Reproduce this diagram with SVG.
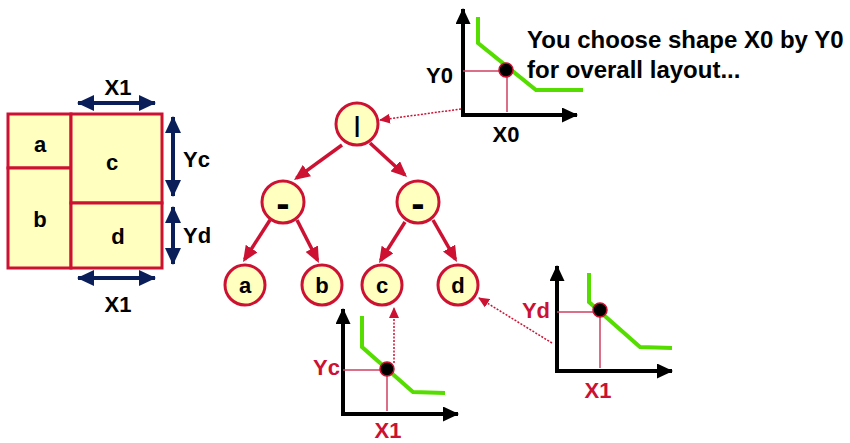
<svg xmlns="http://www.w3.org/2000/svg" width="850" height="443" viewBox="0 0 850 443">
<style>
text{font-family:"Liberation Sans",Arial,sans-serif;font-weight:bold;fill:#000}
.lbl{font-size:22px}
.red{fill:#cc1133}
.mid{text-anchor:middle}
.end{text-anchor:end}
.box{fill:#ffffbf;stroke:#cc1133;stroke-width:3}
.node{fill:#ffffbf;stroke:#cc1133;stroke-width:3}
.tree{stroke:#cc1133;stroke-width:3.5;fill:none;marker-end:url(#redArrow)}
.nav{stroke:#0a1e5a;stroke-width:4;fill:none;marker-start:url(#navArrow);marker-end:url(#navArrow)}
.axis{stroke:#000;stroke-width:4;fill:none;stroke-linejoin:miter;marker-start:url(#blkArrow);marker-end:url(#blkArrow)}
.green{stroke:#55dd00;stroke-width:4;fill:none}
.cross{stroke:#d04060;stroke-width:1.5;fill:none}
.dot{fill:#000;stroke:#cc1133;stroke-width:1.5}
.dotted{stroke:#cc1133;stroke-width:1.5;stroke-dasharray:2 1.5;fill:none;marker-end:url(#smallArrow)}
</style>
<defs>
<marker id="redArrow" markerUnits="userSpaceOnUse" markerWidth="16" markerHeight="14" refX="13" refY="7" orient="auto"><path d="M0,0 L16,7 L0,14 z" fill="#cc1133"/></marker>
<marker id="navArrow" markerUnits="userSpaceOnUse" markerWidth="17" markerHeight="16" refX="16" refY="8" orient="auto-start-reverse"><path d="M0,0 L17,8 L0,16 z" fill="#0a1e5a"/></marker>
<marker id="blkArrow" markerUnits="userSpaceOnUse" markerWidth="16" markerHeight="15" refX="15" refY="7.5" orient="auto-start-reverse"><path d="M0,0 L16,7.5 L0,15 z" fill="#000"/></marker>
<marker id="smallArrow" markerUnits="userSpaceOnUse" markerWidth="11" markerHeight="10" refX="10" refY="5" orient="auto"><path d="M0,0 L11,5 L0,10 z" fill="#cc1133"/></marker>
</defs>

<!-- layout drawing -->
<g id="layout">
<g id="rect-a"><rect class="box" x="8" y="114" width="63" height="54"/><text class="lbl mid" x="40" y="152">a</text></g>
<g id="rect-b"><rect class="box" x="8" y="168" width="63" height="100"/><text class="lbl mid" x="40" y="227">b</text></g>
<g id="rect-c"><rect class="box" x="71" y="114" width="91" height="89"/><text class="lbl mid" x="112" y="170">c</text></g>
<g id="rect-d"><rect class="box" x="71" y="203" width="91" height="65"/><text class="lbl mid" x="118" y="244">d</text></g>
<g id="dims">
<line class="nav" x1="78" y1="103" x2="155" y2="103"/>
<text class="lbl mid" x="118" y="95">X1</text>
<line class="nav" x1="173" y1="117" x2="173" y2="196"/>
<text class="lbl" x="183" y="167">Yc</text>
<line class="nav" x1="173" y1="207" x2="173" y2="264"/>
<text class="lbl" x="183" y="243">Yd</text>
<line class="nav" x1="78" y1="278" x2="155" y2="278"/>
<text class="lbl mid" x="118" y="312">X1</text>
</g>
</g>

<!-- tree connectors -->
<g id="connectors">
<line class="tree" x1="342" y1="145" x2="296.4" y2="178.2"/>
<line class="tree" x1="370" y1="143" x2="404.8" y2="175"/>
<line class="tree" x1="270" y1="220" x2="244.6" y2="259.5"/>
<line class="tree" x1="297" y1="220" x2="317.6" y2="260.3"/>
<line class="tree" x1="405" y1="222" x2="380.6" y2="260.5"/>
<line class="tree" x1="433" y1="220" x2="455.5" y2="259.4"/>
<line class="dotted" x1="461" y1="109" x2="380" y2="120"/>
<line class="dotted" x1="394" y1="363" x2="394" y2="308"/>
<line class="dotted" x1="552" y1="343" x2="479" y2="298"/>
</g>

<!-- tree nodes -->
<g id="node-root"><circle class="node" cx="357" cy="124" r="21"/><text class="lbl mid" x="357" y="132">|</text></g>
<g id="node-minus-left"><circle class="node" cx="283" cy="202" r="21"/><text class="mid" style="font-size:40px" x="283" y="217">-</text></g>
<g id="node-minus-right"><circle class="node" cx="418" cy="202" r="21"/><text class="mid" style="font-size:40px" x="418" y="217">-</text></g>
<g id="node-a"><circle class="node" cx="245" cy="285" r="20"/><text class="lbl mid" x="245" y="293">a</text></g>
<g id="node-b"><circle class="node" cx="322" cy="285" r="20"/><text class="lbl mid" x="322" y="293">b</text></g>
<g id="node-c"><circle class="node" cx="382" cy="285" r="20"/><text class="lbl mid" x="382" y="293">c</text></g>
<g id="node-d"><circle class="node" cx="458" cy="285" r="20"/><text class="lbl mid" x="458" y="293">d</text></g>

<!-- top graph -->
<g id="graph-root">
<path class="axis" d="M463,9 L463,115 L577,115"/>
<polyline class="green" points="478,17 478,43 536,90 583,90"/>
<path class="cross" d="M463,71 L506,71 M507,70 L507,112"/>
<circle class="dot" cx="506" cy="70" r="7"/>
<text class="lbl end" x="453" y="83">Y0</text>
<text class="lbl mid" x="506" y="142">X0</text>
</g>
<g id="note">
<text style="font-size:24px" x="527" y="48">You choose shape X0 by Y0</text>
<text style="font-size:24px" x="527" y="78">for overall layout...</text>
</g>

<!-- c graph -->
<g id="graph-c">
<path class="axis" d="M343,309 L343,414 L458,414"/>
<polyline class="green" points="362,316 362,347 413,392 445,393"/>
<path class="cross" d="M343,370 L387,370 M387,369 L387,411"/>
<circle class="dot" cx="387" cy="369" r="7"/>
<text class="lbl end red" x="340" y="375">Yc</text>
<text class="lbl mid red" x="388" y="438">X1</text>
</g>

<!-- d graph -->
<g id="graph-d">
<path class="axis" d="M557,266 L557,371 L672,371"/>
<polyline class="green" points="589,273 589,302 640,347 672,348"/>
<path class="cross" d="M557,312 L600,312 M600,310 L600,368"/>
<circle class="dot" cx="600" cy="310" r="7"/>
<text class="lbl end red" x="550" y="318">Yd</text>
<text class="lbl mid red" x="598" y="398">X1</text>
</g>
</svg>
